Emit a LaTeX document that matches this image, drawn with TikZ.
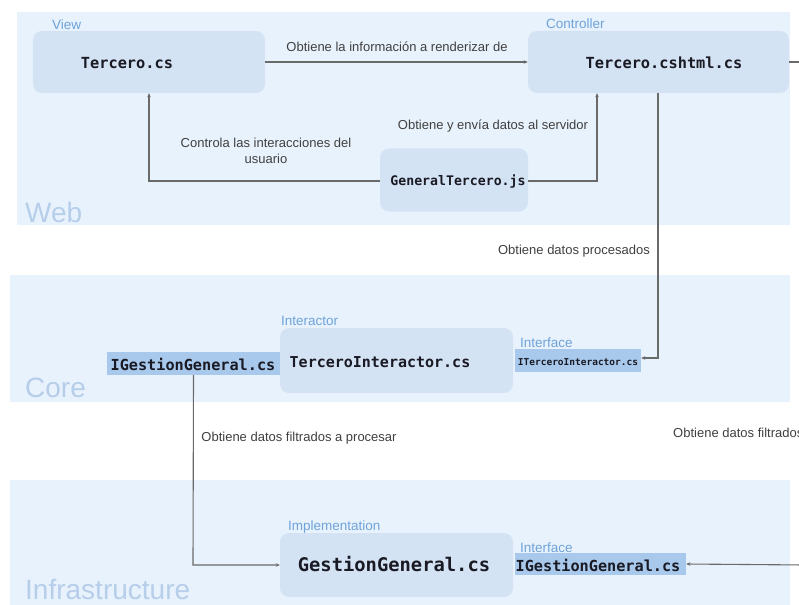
\documentclass[tikz,border=0pt]{standalone}
\usepackage{fontspec}
\setmainfont{Liberation Sans}
\newfontfamily\codefont{DejaVu Sans Mono}
\usetikzlibrary{arrows.meta}
\definecolor{panelfill}{HTML}{E8F2FC}
\definecolor{boxfill}{HTML}{D3E3F3}
\definecolor{hlfill}{HTML}{A8C9EC}
\definecolor{tagblue}{HTML}{6FA3DA}
\definecolor{bigblue}{HTML}{B6CEEA}
\definecolor{linegray}{HTML}{6A6A6A}
\definecolor{labgray}{HTML}{404040}
\definecolor{codeink}{HTML}{1A1A24}
\tikzset{
  panel/.style={fill=panelfill, draw=none},
  filebox/.style={fill=boxfill, draw=none, rounded corners=9pt, inner sep=0pt},
  hlbox/.style={fill=hlfill, draw=none, inner sep=0pt},
  codetext/.style={font=\codefont\bfseries\fontsize{#1}{#1}\selectfont, text=codeink, inner sep=0pt},
  tag/.style={font=\fontsize{13.5}{14}\selectfont, text=tagblue, anchor=west, inner sep=0pt},
  biglabel/.style={font=\fontsize{28}{30}\selectfont, text=bigblue, anchor=west, inner sep=0pt},
  conlabel/.style={font=\fontsize{13}{16}\selectfont, text=labgray, inner sep=0pt, align=center},
  conn/.style={draw=linegray, line width=1.1pt, -{Stealth[length=4pt,width=3.5pt]}},
  plain/.style={draw=linegray, line width=1.1pt}
}
\begin{document}
\begin{tikzpicture}[x=1pt,y=-1pt]
\useasboundingbox (0,0) rectangle (799,604);
\clip (0,0) rectangle (799,604);
\fill[white] (0,0) rectangle (799,604);
% panels
\path[panel] (17,12) rectangle (790,225);
\path[panel] (10,275) rectangle (790,402);
\path[panel] (10,480) rectangle (790,610);
\node[biglabel] (lweb) at (25,212) {Web};
\node[biglabel] (lcore) at (25,388) {Core};
\node[biglabel] (linfra) at (25,589) {Infrastructure};
% boxes
\node[filebox, minimum width=232pt, minimum height=62pt] (view) at (149,62) {};
\node[codetext=15.3] (viewt) at (127,63) {Tercero.cs};
\node[tag] (viewtag) at (52,25) {View};

\node[filebox, minimum width=261pt, minimum height=62pt] (ctrl) at (658.5,62) {};
\node[codetext=15.3] (ctrlt) at (664,63) {Tercero.cshtml.cs};
\node[tag] (ctrltag) at (546,24) {Controller};

\node[filebox, minimum width=148pt, minimum height=63pt] (js) at (454,180) {};
\node[codetext=13.2] (jst) at (458,181) {GeneralTercero.js};

\node[filebox, minimum width=233pt, minimum height=65pt] (inter) at (396.5,360.5) {};
\node[codetext=15] (intert) at (380,362) {TerceroInteractor.cs};
\node[tag] (intertag) at (281,321) {Interactor};

\node[hlbox, minimum width=173pt, minimum height=23pt] (igl) at (193.5,363.5) {};
\node[codetext=15.2] (iglt) at (193,364) {IGestionGeneral.cs};

\node[hlbox, minimum width=126pt, minimum height=23pt] (iti) at (578,360.5) {};
\node[codetext=9.5] (itit) at (578,362) {ITerceroInteractor.cs};
\node[tag] (ititag) at (520,343) {Interface};

\node[filebox, minimum width=233pt, minimum height=64pt] (gest) at (396.5,565) {};
\node[codetext=18.8] (gestt) at (394,564) {GestionGeneral.cs};
\node[tag] (gesttag) at (288,527) {Implementation};

\node[hlbox, minimum width=171pt, minimum height=22pt] (igr) at (600.5,564) {};
\node[codetext=15.2] (igrt) at (598,565) {IGestionGeneral.cs};
\node[tag] (igrtag) at (520,548) {Interface};

% free ends
\coordinate (ctrlout) at (805,62);
\coordinate (igrin) at (805,565);

% connectors
\draw[conn] (view.east) -- (ctrl.west);
\node[conlabel] (l1) at (397,47) {Obtiene la información a renderizar de};
\draw[plain] (ctrl.east) -- (ctrlout);

\draw[conn] (js.west |- 0,181) -- (149,181) -- (view.south -| 149,0);
\node[conlabel] (l2) at (266,151) {Controla las interacciones del\\usuario};

\draw[conn] (js.east |- 0,181) -- (597,181) -- (ctrl.south -| 597,0);
\node[conlabel] (l3) at (493,126) {Obtiene y envía datos al servidor};

\draw[conn] (ctrl.south -| 658,0) -- (658,358) -- (iti.east |- 0,358);
\node[conlabel] (l4) at (574,251) {Obtiene datos procesados};

\draw[conn] (igl.south) -- (193,565) -- (gest.west |- 0,565);
\node[conlabel] (l5) at (299,438) {Obtiene datos filtrados a procesar};

\draw[conn] (igrin) -- (igr.east);
\node[conlabel, anchor=west] (l6) at (673,433) {Obtiene datos filtrados};
\end{tikzpicture}
\end{document}
